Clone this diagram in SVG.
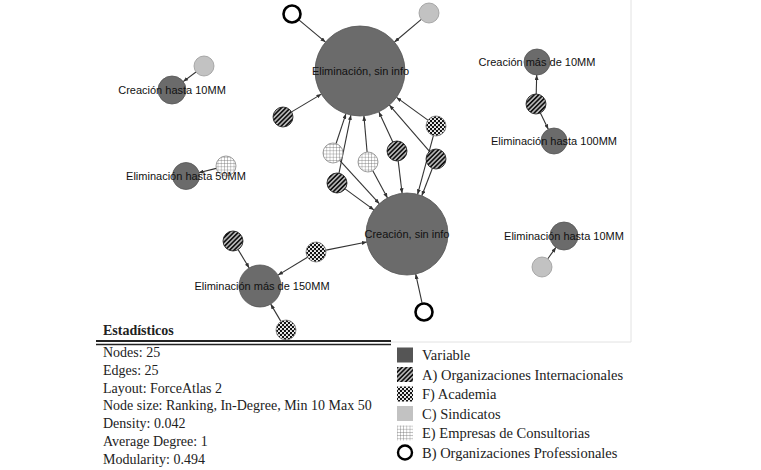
<svg xmlns="http://www.w3.org/2000/svg" width="761" height="470" viewBox="0 0 761 470">
<style>
.var{fill:#6b6b6b;stroke:#555;stroke-width:0.8}
.lbl{font-family:"Liberation Sans",Arial,sans-serif;font-size:11px;fill:#111;text-anchor:middle}
.hat{fill:url(#hatch);stroke:#111;stroke-width:0.8}
.aca{fill:url(#dots);stroke:#777;stroke-width:0.8}
.con{fill:url(#grid);stroke:#888;stroke-width:0.8}
.sin{fill:#c2c2c2;stroke:#999;stroke-width:0.8}
.opn{fill:#fff;stroke:#000;stroke-width:2.6}
.edge line{stroke:#333;stroke-width:1.1}
.txt{font-family:"Liberation Serif","Times New Roman",serif;font-size:14px;fill:#222}
.leg{font-family:"Liberation Serif","Times New Roman",serif;font-size:14.5px;fill:#222}
.frame{stroke:#e2e2e2;stroke-width:1;fill:none}
</style>
<defs>
<pattern id="hatch" patternUnits="userSpaceOnUse" width="3.2" height="3.2" patternTransform="rotate(45)">
<rect width="3.2" height="3.2" fill="#111"/>
<line x1="1.6" y1="0" x2="1.6" y2="3.2" stroke="#fff" stroke-width="1.1"/>
</pattern>
<pattern id="dots" patternUnits="userSpaceOnUse" width="4" height="4">
<rect width="4" height="4" fill="#111"/>
<circle cx="1" cy="1" r="1.1" fill="#fff"/>
<circle cx="3" cy="3" r="1.1" fill="#fff"/>
</pattern>
<pattern id="grid" patternUnits="userSpaceOnUse" width="3.2" height="3.2">
<rect width="3.2" height="3.2" fill="#fff"/>
<path d="M0 0H3.2M0 0V3.2" stroke="#666" stroke-width="0.7"/>
</pattern>
<marker id="arr" markerUnits="userSpaceOnUse" markerWidth="5" markerHeight="4" refX="5" refY="2" orient="auto">
<path d="M0 0L5 2L0 4z" fill="#333"/>
</marker>
</defs>
<rect width="761" height="470" fill="#fff"/>
<path class="frame" d="M631 0V342H390"/>
<g id="connectors" class="edge">
<line x1="298.9" y1="19.8" x2="325.5" y2="42.1" marker-end="url(#arr)"/>
<line x1="421.3" y1="19.4" x2="394.5" y2="42" marker-end="url(#arr)"/>
<line x1="291.6" y1="111.9" x2="321.4" y2="94.1" marker-end="url(#arr)"/>
<line x1="427.9" y1="120.1" x2="396.5" y2="97.4" marker-end="url(#arr)"/>
<line x1="433.4" y1="135.7" x2="417.6" y2="194.4" marker-end="url(#arr)"/>
<line x1="429.5" y1="151.4" x2="389.4" y2="105.1" marker-end="url(#arr)"/>
<line x1="432.4" y1="168.3" x2="421.8" y2="195.7" marker-end="url(#arr)"/>
<line x1="392.8" y1="141.9" x2="378.9" y2="111.9" marker-end="url(#arr)"/>
<line x1="398.2" y1="160.9" x2="402.1" y2="193.3" marker-end="url(#arr)"/>
<line x1="367.1" y1="152" x2="363.9" y2="115.8" marker-end="url(#arr)"/>
<line x1="372.8" y1="170.8" x2="387.5" y2="198" marker-end="url(#arr)"/>
<line x1="336.1" y1="143.5" x2="345.9" y2="113.8" marker-end="url(#arr)"/>
<line x1="339.7" y1="160.4" x2="379.3" y2="203.7" marker-end="url(#arr)"/>
<line x1="339" y1="173.2" x2="350.9" y2="115.1" marker-end="url(#arr)"/>
<line x1="345.1" y1="188.9" x2="373.9" y2="209.9" marker-end="url(#arr)"/>
<line x1="422.1" y1="303.2" x2="415.7" y2="274.1" marker-end="url(#arr)"/>
<line x1="326.1" y1="250.1" x2="366.8" y2="242" marker-end="url(#arr)"/>
<line x1="307.5" y1="257.2" x2="278" y2="275.1" marker-end="url(#arr)"/>
<line x1="238.1" y1="249.6" x2="249.2" y2="268" marker-end="url(#arr)"/>
<line x1="280.9" y1="321.4" x2="270.7" y2="304.1" marker-end="url(#arr)"/>
<line x1="196" y1="72" x2="183.2" y2="81.6" marker-end="url(#arr)"/>
<line x1="216.3" y1="168.4" x2="198.6" y2="172.8" marker-end="url(#arr)"/>
<line x1="536.2" y1="94" x2="536.7" y2="75" marker-end="url(#arr)"/>
<line x1="540.4" y1="113" x2="548.3" y2="129.3" marker-end="url(#arr)"/>
<line x1="547.8" y1="258.8" x2="555.9" y2="247.4" marker-end="url(#arr)"/>
</g>
<g id="n-open-top"><circle class="opn" cx="292" cy="14" r="8.5"/></g>
<g id="n-sind-top"><circle class="sin" cx="429" cy="13" r="10"/></g>
<g id="n-hat-left"><circle class="hat" cx="283" cy="117" r="10"/></g>
<g id="n-aca-1"><circle class="aca" cx="436" cy="126" r="10"/></g>
<g id="n-hat-right"><circle class="hat" cx="436" cy="159" r="10"/></g>
<g id="n-hat-mid"><circle class="hat" cx="397" cy="151" r="10"/></g>
<g id="n-con-mid"><circle class="con" cx="368" cy="162" r="10"/></g>
<g id="n-con-left"><circle class="con" cx="333" cy="153" r="10"/></g>
<g id="n-hat-lowleft"><circle class="hat" cx="337" cy="183" r="10"/></g>
<g id="n-open-bottom"><circle class="opn" cx="424" cy="312" r="8.5"/></g>
<g id="n-aca-2"><circle class="aca" cx="316" cy="252" r="10"/></g>
<g id="n-hat-150"><circle class="hat" cx="233" cy="241" r="10"/></g>
<g id="n-aca-3"><circle class="aca" cx="286" cy="330" r="10"/></g>
<g id="n-sind-c10"><circle class="sin" cx="204" cy="66" r="10"/></g>
<g id="n-con-e50"><circle class="con" cx="226" cy="166" r="10"/></g>
<g id="n-hat-right2"><circle class="hat" cx="536" cy="104" r="10"/></g>
<g id="n-sind-e10"><circle class="sin" cx="542" cy="267" r="10"/></g>
<g id="v-elim-sin"><circle class="var" cx="360" cy="71" r="45"/><text class="lbl" x="360.5" y="75">Eliminación, sin info</text></g>
<g id="v-crea-sin"><circle class="var" cx="407" cy="234" r="41"/><text class="lbl" x="407" y="238">Creación, sin info</text></g>
<g id="v-elim-150"><circle class="var" cx="260" cy="286" r="21"/><text class="lbl" x="262" y="290">Eliminación más de 150MM</text></g>
<g id="v-crea-10"><circle class="var" cx="172" cy="90" r="14"/><text class="lbl" x="172" y="94">Creación hasta 10MM</text></g>
<g id="v-elim-50"><circle class="var" cx="186" cy="176" r="13.5"/><text class="lbl" x="186" y="180">Eliminación hasta 50MM</text></g>
<g id="v-crea-m10"><circle class="var" cx="537" cy="62" r="13"/><text class="lbl" x="537" y="66">Creación más de 10MM</text></g>
<g id="v-elim-100"><circle class="var" cx="554" cy="141" r="13"/><text class="lbl" x="554" y="145">Eliminación hasta 100MM</text></g>
<g id="v-elim-10"><circle class="var" cx="564" cy="236" r="14"/><text class="lbl" x="564" y="240">Eliminación hasta 10MM</text></g>
<g id="stats">
<text class="txt" x="103" y="335" font-weight="bold">Estadísticos</text>
<line x1="96" y1="341" x2="391" y2="341" stroke="#222" stroke-width="1.8"/>
<line x1="96" y1="344.5" x2="391" y2="344.5" stroke="#222" stroke-width="1.3"/>
<text class="txt" x="103" y="357">Nodes: 25</text>
<text class="txt" x="103" y="374.8">Edges: 25</text>
<text class="txt" x="103" y="392.6">Layout: ForceAtlas 2</text>
<text class="txt" x="103" y="410.4">Node size: Ranking, In-Degree, Min 10 Max 50</text>
<text class="txt" x="103" y="428.2">Density: 0.042</text>
<text class="txt" x="103" y="446">Average Degree: 1</text>
<text class="txt" x="103" y="463.8">Modularity: 0.494</text>
</g>
<g id="legend">
<rect x="397" y="347.5" width="16" height="15" fill="#555"/>
<text class="leg" x="422" y="360">Variable</text>
<rect x="397" y="367" width="16" height="15" fill="url(#hatch)"/>
<text class="leg" x="422" y="379.5">A) Organizaciones Internacionales</text>
<rect x="397" y="386.5" width="16" height="15" fill="url(#dots)"/>
<text class="leg" x="422" y="399">F) Academia</text>
<rect x="397" y="406" width="16" height="15" fill="#c2c2c2"/>
<text class="leg" x="422" y="418.5">C) Sindicatos</text>
<rect x="397" y="425.5" width="16" height="15" fill="url(#grid)"/>
<text class="leg" x="422" y="438">E) Empresas de Consultorias</text>
<circle cx="405" cy="452.5" r="7" fill="#fff" stroke="#000" stroke-width="2.4"/>
<text class="leg" x="422" y="457.5">B) Organizaciones Professionales</text>
</g>
</svg>
